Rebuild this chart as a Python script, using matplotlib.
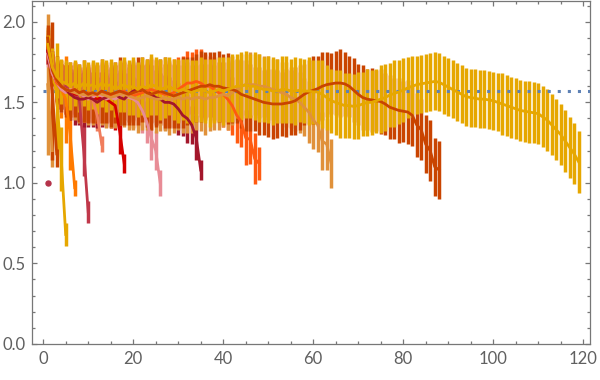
import matplotlib
matplotlib.use("Agg")
import matplotlib.pyplot as plt
from matplotlib.ticker import MultipleLocator

# series lengths and colours (one series per length)
lengths = [1, 2, 3, 5, 7, 10, 13, 18, 26, 35, 48, 64, 88, 119]
colors = ["#b5334a", "#e0913a", "#c94400", "#e6a700", "#ff7a00", "#c0384a", "#f07d5d",
          "#d50000", "#e88c96", "#a3162b", "#ff5a10", "#e0913a", "#c94400", "#e6a700"]

means_1 = [1.0]
errs_1 = [0.0]
means_2 = [1.61, 1.2]
errs_2 = [0.44, 0.1]
means_3 = [1.85, 1.57, 1.18]
errs_3 = [0.1, 0.43, 0.08]
means_5 = [1.89, 1.72, 1.54, 1.15, 0.68]
errs_5 = [0.08, 0.12, 0.33, 0.2, 0.07]
means_7 = [1.82, 1.68, 1.62, 1.58, 1.52, 1.3, 0.97]
errs_7 = [0.08, 0.12, 0.14, 0.18, 0.27, 0.22, 0.05]
means_10 = [1.82, 1.68, 1.62, 1.58, 1.6, 1.57, 1.56, 1.52, 1.2, 0.82]
errs_10 = [0.08, 0.1, 0.12, 0.12, 0.13, 0.12, 0.13, 0.14, 0.16, 0.07]
means_13 = [1.82, 1.7, 1.62, 1.6, 1.58, 1.57, 1.58, 1.56, 1.55, 1.55, 1.52, 1.42, 1.24]
errs_13 = [0.08, 0.1, 0.12, 0.14, 0.15, 0.14, 0.16, 0.15, 0.16, 0.15, 0.14, 0.1, 0.05]
means_18 = [1.82, 1.7, 1.63, 1.6, 1.58, 1.57, 1.55, 1.55, 1.54, 1.55, 1.53, 1.52, 1.53, 1.52,
            1.5, 1.48, 1.32, 1.12]
errs_18 = [0.08, 0.1, 0.12, 0.14, 0.15, 0.16, 0.16, 0.17, 0.16, 0.17, 0.16, 0.17, 0.16, 0.15,
           0.16, 0.15, 0.14, 0.06]
means_26 = [1.8, 1.68, 1.62, 1.58, 1.56, 1.58, 1.57, 1.55, 1.54, 1.52, 1.53, 1.55, 1.54, 1.52,
            1.53, 1.52, 1.54, 1.55, 1.53, 1.52, 1.5, 1.45, 1.38, 1.28, 1.2, 1.0]
errs_26 = [0.08, 0.1, 0.12, 0.14, 0.14, 0.15, 0.14, 0.15, 0.16, 0.15, 0.14, 0.16, 0.15, 0.16,
           0.15, 0.16, 0.15, 0.16, 0.15, 0.14, 0.15, 0.14, 0.13, 0.14, 0.12, 0.08]
means_35 = [1.82, 1.72, 1.63, 1.6, 1.58, 1.55, 1.53, 1.52, 1.52, 1.53, 1.52, 1.5, 1.52, 1.53,
            1.55, 1.55, 1.53, 1.52, 1.55, 1.57, 1.58, 1.57, 1.57, 1.55, 1.53, 1.52, 1.5, 1.5,
            1.49, 1.46, 1.42, 1.4, 1.36, 1.28, 1.08]
errs_35 = [0.08, 0.1, 0.12, 0.14, 0.15, 0.16, 0.17, 0.16, 0.17, 0.18, 0.17, 0.16, 0.17, 0.18,
           0.17, 0.18, 0.17, 0.16, 0.17, 0.18, 0.17, 0.16, 0.17, 0.18, 0.17, 0.16, 0.17, 0.16,
           0.15, 0.16, 0.13, 0.15, 0.12, 0.14, 0.06]
means_48 = [1.85, 1.72, 1.62, 1.6, 1.58, 1.57, 1.58, 1.56, 1.55, 1.56,
            1.55, 1.55, 1.56, 1.55, 1.54, 1.55, 1.56, 1.57, 1.55, 1.54,
            1.55, 1.56, 1.57, 1.58, 1.57, 1.56, 1.55, 1.55, 1.56, 1.58,
            1.6, 1.62, 1.62, 1.63, 1.62, 1.6, 1.6, 1.58, 1.56, 1.55,
            1.52, 1.48, 1.42, 1.38, 1.28, 1.27, 1.15, 1.12]
errs_48 = [0.08, 0.1, 0.12, 0.14, 0.15, 0.16, 0.17, 0.16, 0.17, 0.18,
           0.17, 0.18, 0.19, 0.18, 0.17, 0.18, 0.19, 0.18, 0.19, 0.2,
           0.19, 0.18, 0.19, 0.2, 0.19, 0.2, 0.19, 0.2, 0.21, 0.2,
           0.19, 0.2, 0.19, 0.2, 0.21, 0.2, 0.19, 0.2, 0.19, 0.2,
           0.19, 0.18, 0.17, 0.16, 0.17, 0.15, 0.16, 0.1]
means_64 = [1.88, 1.72, 1.64, 1.6, 1.58, 1.57, 1.56, 1.55, 1.55, 1.54,
            1.55, 1.56, 1.55, 1.54, 1.53, 1.54, 1.55, 1.55, 1.54, 1.53,
            1.52, 1.53, 1.54, 1.53, 1.52, 1.52, 1.53, 1.52, 1.52, 1.53,
            1.52, 1.53, 1.52, 1.53, 1.53, 1.52, 1.53, 1.53, 1.54, 1.55,
            1.54, 1.56, 1.58, 1.6, 1.61, 1.61, 1.61, 1.6, 1.6, 1.59,
            1.58, 1.57, 1.56, 1.55, 1.53, 1.52, 1.5, 1.47, 1.44, 1.39,
            1.36, 1.26, 1.24, 1.12]
errs_64 = [0.08, 0.1, 0.12, 0.14, 0.15, 0.16, 0.17, 0.18, 0.17, 0.18,
           0.19, 0.18, 0.19, 0.2, 0.19, 0.2, 0.19, 0.2, 0.21, 0.2,
           0.21, 0.2, 0.21, 0.2, 0.21, 0.2, 0.21, 0.22, 0.21, 0.2,
           0.21, 0.22, 0.21, 0.2, 0.21, 0.22, 0.21, 0.2, 0.21, 0.2,
           0.21, 0.2, 0.19, 0.2, 0.19, 0.2, 0.19, 0.2, 0.19, 0.2,
           0.19, 0.2, 0.19, 0.2, 0.19, 0.2, 0.19, 0.18, 0.19, 0.18,
           0.17, 0.18, 0.16, 0.15]
means_88 = [1.9, 1.7, 1.64, 1.6, 1.58, 1.57, 1.58, 1.56, 1.57, 1.55,
            1.56, 1.55, 1.57, 1.56, 1.55, 1.56, 1.57, 1.56, 1.55, 1.56,
            1.57, 1.58, 1.56, 1.55, 1.56, 1.57, 1.56, 1.55, 1.54, 1.55,
            1.56, 1.57, 1.58, 1.59, 1.6, 1.6, 1.61, 1.6, 1.6, 1.59,
            1.585, 1.58, 1.57, 1.55, 1.54, 1.53, 1.52, 1.51, 1.5, 1.495,
            1.49, 1.49, 1.49, 1.495, 1.5, 1.51, 1.53, 1.55, 1.565, 1.575,
            1.585, 1.6, 1.61, 1.615, 1.62, 1.62, 1.615, 1.6, 1.575, 1.55,
            1.53, 1.52, 1.515, 1.51, 1.505, 1.49, 1.47, 1.46, 1.45, 1.445,
            1.44, 1.42, 1.36, 1.33, 1.24, 1.2, 1.1, 1.08]
errs_88 = [0.08, 0.1, 0.15, 0.16, 0.17, 0.18, 0.17, 0.18, 0.19, 0.18,
           0.19, 0.18, 0.2, 0.19, 0.2, 0.19, 0.21, 0.2, 0.19, 0.2,
           0.21, 0.2, 0.21, 0.22, 0.21, 0.2, 0.22, 0.21, 0.2, 0.21,
           0.22, 0.21, 0.2, 0.21, 0.22, 0.21, 0.2, 0.21, 0.22, 0.21,
           0.22, 0.21, 0.2, 0.21, 0.22, 0.21, 0.2, 0.21, 0.2, 0.21,
           0.22, 0.21, 0.2, 0.21, 0.2, 0.21, 0.2, 0.19, 0.2, 0.21,
           0.2, 0.21, 0.2, 0.19, 0.2, 0.21, 0.2, 0.19, 0.2, 0.19,
           0.2, 0.19, 0.2, 0.19, 0.2, 0.19, 0.2, 0.19, 0.2, 0.19,
           0.2, 0.19, 0.2, 0.19, 0.18, 0.19, 0.18, 0.18]
means_119 = [1.86, 1.72, 1.66, 1.63, 1.62, 1.6, 1.62, 1.59, 1.62, 1.6,
             1.61, 1.59, 1.62, 1.6, 1.61, 1.58, 1.6, 1.61, 1.59, 1.6,
             1.58, 1.6, 1.59, 1.61, 1.6, 1.58, 1.59, 1.6, 1.58, 1.57,
             1.58, 1.57, 1.56, 1.57, 1.58, 1.57, 1.56, 1.57, 1.58, 1.57,
             1.58, 1.59, 1.6, 1.6, 1.61, 1.6, 1.6, 1.59, 1.58, 1.58,
             1.57, 1.57, 1.58, 1.58, 1.57, 1.57, 1.575, 1.57, 1.57, 1.565,
             1.565, 1.55, 1.53, 1.51, 1.5, 1.49, 1.48, 1.48, 1.475, 1.48,
             1.49, 1.5, 1.5, 1.51, 1.52, 1.53, 1.545, 1.555, 1.565, 1.575,
             1.59, 1.6, 1.61, 1.615, 1.62, 1.625, 1.63, 1.625, 1.61, 1.595,
             1.58, 1.565, 1.55, 1.535, 1.53, 1.525, 1.52, 1.52, 1.515, 1.51,
             1.5, 1.49, 1.48, 1.47, 1.46, 1.45, 1.445, 1.44, 1.435, 1.43,
             1.41, 1.39, 1.36, 1.33, 1.3, 1.26, 1.22, 1.18, 1.13]
errs_119 = [0.06, 0.1, 0.13, 0.14, 0.14, 0.15, 0.14, 0.15, 0.14, 0.15,
            0.15, 0.16, 0.15, 0.16, 0.16, 0.17, 0.16, 0.17, 0.17, 0.18,
            0.17, 0.18, 0.18, 0.19, 0.18, 0.19, 0.19, 0.18, 0.19, 0.2,
            0.19, 0.2, 0.2, 0.19, 0.2, 0.2, 0.21, 0.2, 0.2, 0.21,
            0.2, 0.21, 0.2, 0.21, 0.21, 0.2, 0.21, 0.21, 0.2, 0.21,
            0.21, 0.2, 0.21, 0.21, 0.2, 0.21, 0.2, 0.2, 0.21, 0.2,
            0.2, 0.21, 0.2, 0.2, 0.2, 0.21, 0.2, 0.2, 0.2, 0.21,
            0.2, 0.21, 0.2, 0.2, 0.21, 0.21, 0.2, 0.21, 0.2, 0.2,
            0.19, 0.19, 0.18, 0.18, 0.18, 0.18, 0.18, 0.18, 0.18, 0.18,
            0.18, 0.18, 0.18, 0.18, 0.18, 0.18, 0.18, 0.18, 0.18, 0.18,
            0.18, 0.19, 0.19, 0.19, 0.19, 0.19, 0.19, 0.19, 0.19, 0.19,
            0.19, 0.19, 0.19, 0.19, 0.19, 0.19, 0.19, 0.19, 0.19]

all_means = [means_1, means_2, means_3, means_5, means_7, means_10, means_13, means_18,
             means_26, means_35, means_48, means_64, means_88, means_119]
all_errs = [errs_1, errs_2, errs_3, errs_5, errs_7, errs_10, errs_13, errs_18,
            errs_26, errs_35, errs_48, errs_64, errs_88, errs_119]

ref_level = 1.5708  # pi/2
ref_span = (0, 121.5)
ref_color = "#5e81b5"
xlim = (-2.4, 121.6)
ylim = (0, 2.13)

plt.rcParams['font.family'] = ['Lato', 'DejaVu Sans']
fig = plt.figure(figsize=(6, 3.8), dpi=100)
ax = fig.add_axes([0.054, 0.095, 0.93, 0.9026])

for k, (n, c, m, e) in enumerate(zip(lengths, colors, all_means, all_errs)):
    x = list(range(1, n + 1))
    if n == 1:
        ax.plot(x, m, "o", color=c, ms=3.6, zorder=40)
        continue
    lo = [mi - ei for mi, ei in zip(m, e)]
    hi = [mi + ei for mi, ei in zip(m, e)]
    ax.vlines(x, lo, hi, color=c, lw=2.5, zorder=1 + k)
    ax.plot(x, m, color=c, lw=2.0, zorder=30 + k, solid_joinstyle="round")

ax.plot(ref_span, [ref_level, ref_level], color=ref_color, lw=2.2,
        dashes=[1, 2.3], dash_capstyle="butt", zorder=25)

ax.set_xlim(*xlim)
ax.set_ylim(*ylim)
ax.xaxis.set_major_locator(MultipleLocator(20))
ax.xaxis.set_minor_locator(MultipleLocator(5))
ax.yaxis.set_major_locator(MultipleLocator(0.5))
ax.yaxis.set_minor_locator(MultipleLocator(0.1))
ax.yaxis.set_major_formatter(plt.FuncFormatter(lambda v, p: "%.1f" % v))
ax.tick_params(which="both", direction="in", top=True, right=True, color="#777777",
               width=0.9, labelcolor="#606060", labelsize=12)
ax.tick_params(which="major", length=3.3, pad=5)
ax.tick_params(which="minor", length=1.9)
for s in ax.spines.values():
    s.set_color("#777777")
    s.set_linewidth(0.9)

fig.savefig("out.png", dpi=100)
